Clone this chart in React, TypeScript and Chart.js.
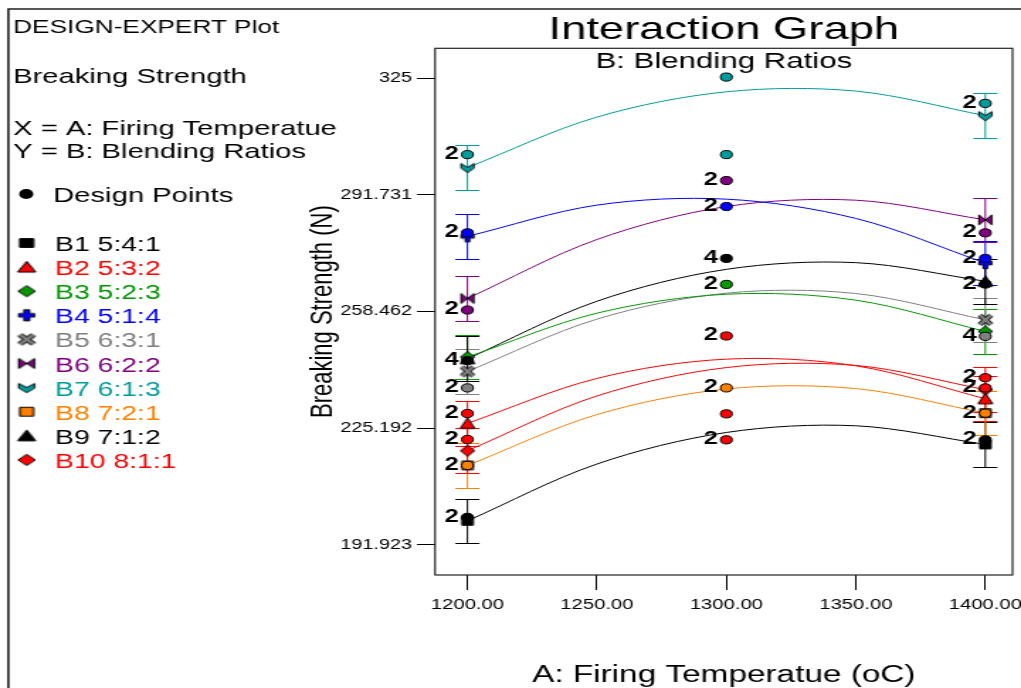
import React, { useEffect, useRef } from 'react';
import { Chart, registerables } from 'chart.js';

Chart.register(...registerables);

const FONT = '"Liberation Sans", Arial, Helvetica, sans-serif';

// ---- Data ----
const seriesNames = ['B1 5:4:1', 'B2 5:3:2', 'B3 5:2:3', 'B4 5:1:4', 'B5 6:3:1', 'B6 6:2:2', 'B7 6:1:3', 'B8 7:2:1', 'B9 7:1:2', 'B10 8:1:1'];
const seriesColors = ['#000000', '#FF0000', '#009900', '#0000FF', '#808080', '#800080', '#009C9C', '#FF8000', '#000000', '#FF0000'];
const seriesMarkers = ['square', 'triangle', 'diamond', 'plus', 'cross', 'bowtie', 'chevron', 'square', 'triangle', 'diamond'];

// Firing temperatures at which the fitted curves were read
const curveTemps = [1200, 1250, 1300, 1350, 1400];
const curveB1 = [198.8, 215.0, 224.0, 225.9, 220.6];
const curveB2 = [226.6, 239.4, 244.9, 243.0, 233.6];
const curveB3 = [245.5, 258.0, 263.4, 261.7, 252.8];
const curveB4 = [279.9, 288.8, 290.5, 285.0, 272.3];
const curveB5 = [241.4, 256.3, 263.7, 263.6, 256.1];
const curveB6 = [262.2, 279.0, 288.4, 290.2, 284.6];
const curveB7 = [299.5, 313.9, 321.1, 321.3, 314.3];
const curveB8 = [214.6, 229.1, 236.4, 236.5, 229.5];
const curveB9 = [245.0, 261.4, 270.5, 272.4, 267.1];
const curveB10 = [218.8, 234.4, 242.5, 243.1, 236.2];
const curves = [curveB1, curveB2, curveB3, curveB4, curveB5, curveB6, curveB7, curveB8, curveB9, curveB10];
const lsdHalfWidth = 6.36;

// Design points
const pointTemps = [
  1200, 1200, 1200, 1200, 1200, 1200, 1200, 1200, 1200,
  1300, 1300, 1300, 1300, 1300, 1300, 1300, 1300, 1300, 1300,
  1400, 1400, 1400, 1400, 1400, 1400, 1400, 1400, 1400,
];
const pointValues = [
  303.2, 280.9, 258.9, 244.5, 236.7, 229.4, 222.0, 214.6, 199.8,
  325.3, 303.2, 295.8, 288.4, 273.6, 266.2, 251.5, 236.7, 229.3, 221.9,
  317.8, 280.9, 273.6, 266.3, 251.4, 239.6, 236.7, 229.5, 221.9,
];
const pointColors = [
  '#009C9C', '#0000FF', '#800080', '#000000', '#808080', '#FF0000', '#FF0000', '#FF8000', '#000000',
  '#009C9C', '#009C9C', '#800080', '#0000FF', '#000000', '#009900', '#FF0000', '#FF8000', '#FF0000', '#FF0000',
  '#009C9C', '#800080', '#0000FF', '#000000', '#808080', '#FF0000', '#FF0000', '#FF8000', '#000000',
];
const pointCounts = [
  2, 2, 2, 4, 2, 2, 2, 2, 2,
  1, 1, 2, 2, 4, 2, 2, 2, 1, 2,
  2, 2, 2, 2, 4, 2, 2, 2, 2,
];

const xTicks = [1200, 1250, 1300, 1350, 1400];
const yTicks = [191.923, 225.192, 258.462, 291.731, 325];
const yTickLabels = ['191.923', '225.192', '258.462', '291.731', '325'];
const xRange = [1187.5, 1410.5];
const yRange = [183.37, 333.5];

// canvas is drawn narrow and stretched horizontally like the reference
const INNER_W = 720;
const OUTER_W = 1021;
const H = 688;

function makeMarker(kind: string, color: string): HTMLCanvasElement {
  const c = document.createElement('canvas');
  c.width = 14;
  c.height = 16;
  const g = c.getContext('2d') as CanvasRenderingContext2D;
  g.translate(7, 8);
  const a = 4.6;
  const b = 5.6;
  g.lineJoin = 'miter';
  g.fillStyle = color;
  g.strokeStyle = '#000';
  g.lineWidth = 1;
  const poly = (pts: number[][]) => {
    g.beginPath();
    pts.forEach(([x, y], i) => (i ? g.lineTo(x, y) : g.moveTo(x, y)));
    g.closePath();
    g.fill();
    g.stroke();
  };
  const strokeLines = (segs: number[][], outer: number, inner: number) => {
    g.lineCap = 'butt';
    g.lineWidth = outer;
    g.strokeStyle = '#000';
    segs.forEach((s) => {
      g.beginPath();
      g.moveTo(s[0], s[1]);
      for (let i = 2; i < s.length; i += 2) g.lineTo(s[i], s[i + 1]);
      g.stroke();
    });
    g.lineWidth = inner;
    g.strokeStyle = color;
    segs.forEach((s) => {
      g.beginPath();
      g.moveTo(s[0], s[1]);
      for (let i = 2; i < s.length; i += 2) g.lineTo(s[i], s[i + 1]);
      g.stroke();
    });
  };
  switch (kind) {
    case 'square':
      poly([[-a + 0.6, -b + 1.2], [a - 0.6, -b + 1.2], [a - 0.6, b - 1.2], [-a + 0.6, b - 1.2]]);
      break;
    case 'triangle':
      poly([[0, -b], [a + 0.6, b - 0.6], [-a - 0.6, b - 0.6]]);
      break;
    case 'diamond':
      poly([[0, -b], [a + 0.4, 0], [0, b], [-a - 0.4, 0]]);
      break;
    case 'plus': {
      const t = 1.6;
      const u = 1.8;
      poly([[-t, -b], [t, -b], [t, -u], [a, -u], [a, u], [t, u], [t, b], [-t, b], [-t, u], [-a, u], [-a, -u], [-t, -u]]);
      break;
    }
    case 'cross':
      strokeLines([[-a + 0.6, -b + 1, a - 0.6, b - 1], [a - 0.6, -b + 1, -a + 0.6, b - 1]], 4.2, 2.4);
      break;
    case 'bowtie':
      poly([[-a, -b + 0.5], [0, 0], [a, -b + 0.5], [a, b - 0.5], [0, 0], [-a, b - 0.5]]);
      break;
    case 'chevron':
      poly([[-a, -b + 1.5], [0, -0.2], [a, -b + 1.5], [a, 0.6], [0, b - 0.5], [-a, 0.6]]);
      break;
  }
  return c;
}

export default function App() {
  const ref = useRef<HTMLCanvasElement | null>(null);

  useEffect(() => {
    const canvas = ref.current;
    if (!canvas) return;
    const markers = seriesMarkers.map((k, i) => makeMarker(k, seriesColors[i]));

    const datasets: any[] = [];
    datasets.push({
      label: 'Design Points',
      data: pointTemps.map((t, i) => ({ x: t, y: pointValues[i] })),
      showLine: false,
      pointStyle: 'circle',
      pointRadius: 4.1,
      pointBackgroundColor: pointColors,
      pointBorderColor: '#000000',
      pointBorderWidth: 1,
    });
    curves.forEach((vals, k) => {
      datasets.push({
        label: seriesNames[k],
        data: curveTemps.map((t, i) => ({ x: t, y: vals[i] })),
        borderColor: seriesColors[k],
        borderWidth: 1,
        tension: 0.33,
        fill: false,
        pointStyle: markers[k],
        pointRadius: curveTemps.map((t) => (t === xTicks[0] || t === xTicks[xTicks.length - 1] ? 5 : 0)),
      });
    });

    const lsdPlugin = {
      id: 'lsdBars',
      beforeDatasetsDraw(chart: any) {
        const { ctx, scales } = chart;
        const xs = scales.x;
        const ys = scales.y;
        ctx.save();
        ctx.lineWidth = 1;
        curves.forEach((vals, k) => {
          ctx.strokeStyle = seriesColors[k];
          [0, curveTemps.length - 1].forEach((i) => {
            const px = xs.getPixelForValue(curveTemps[i]);
            const top = Math.round(ys.getPixelForValue(vals[i] + lsdHalfWidth)) + 0.5;
            const bot = Math.round(ys.getPixelForValue(vals[i] - lsdHalfWidth)) + 0.5;
            ctx.beginPath();
            ctx.moveTo(px, top);
            ctx.lineTo(px, bot);
            ctx.moveTo(px - 8.5, top);
            ctx.lineTo(px + 8.5, top);
            ctx.moveTo(px - 8.5, bot);
            ctx.lineTo(px + 8.5, bot);
            ctx.stroke();
          });
        });
        ctx.restore();
      },
      afterDatasetsDraw(chart: any) {
        const { ctx, chartArea } = chart;
        const meta = chart.getDatasetMeta(0);
        ctx.save();
        ctx.font = `bold 18px ${FONT}`;
        ctx.textAlign = 'right';
        ctx.textBaseline = 'middle';
        ctx.fillStyle = '#000';
        meta.data.forEach((el: any, i: number) => {
          if (pointCounts[i] > 1) ctx.fillText(String(pointCounts[i]), el.x - 6, el.y - 0.5);
        });
        // plot box
        ctx.strokeStyle = '#222';
        ctx.lineWidth = 1.2;
        ctx.strokeRect(chartArea.left, chartArea.top, chartArea.right - chartArea.left, chartArea.bottom - chartArea.top);
        ctx.restore();
      },
      afterDraw(chart: any) {
        const { ctx, chartArea } = chart;
        ctx.save();
        // outer frame
        ctx.strokeStyle = '#222';
        ctx.lineWidth = 1.6;
        ctx.beginPath();
        ctx.moveTo(5.9, H);
        ctx.lineTo(5.9, 9);
        ctx.lineTo(INNER_W, 9);
        ctx.stroke();

        const cx = (chartArea.left + chartArea.right) / 2;
        ctx.fillStyle = '#000';
        ctx.textBaseline = 'alphabetic';
        ctx.textAlign = 'center';
        ctx.font = `32px ${FONT}`;
        ctx.fillText('Interaction Graph', cx, 39);
        ctx.font = `22px ${FONT}`;
        ctx.fillText('B: Blending Ratios', cx, 68);

        ctx.textAlign = 'left';
        ctx.font = `18.5px ${FONT}`;
        ctx.fillText('DESIGN-EXPERT Plot', 9.2, 33);
        ctx.font = `20.6px ${FONT}`;
        ctx.fillText('Breaking Strength', 9.2, 83);
        ctx.fillText('X = A: Firing Temperatue', 9.2, 135);
        ctx.fillText('Y = B: Blending Ratios', 9.2, 158);

        ctx.beginPath();
        ctx.arc(18.5, 194, 5, 0, Math.PI * 2);
        ctx.fill();
        ctx.fillText('Design Points', 37.5, 202);

        ctx.font = `20px ${FONT}`;
        seriesNames.forEach((name, i) => {
          const base = 251 + 24.1 * i;
          const m = markers[i];
          ctx.drawImage(m, 18.8 - 8.5, base - 8 - 8, 17, 16);
          ctx.fillStyle = seriesColors[i];
          ctx.fillText(name, 38.8, base);
        });
        ctx.restore();
      },
    };

    const chart = new Chart(canvas, {
      type: 'line',
      data: { datasets },
      options: {
        responsive: false,
        animation: false,
        devicePixelRatio: 1,
        events: [],
        layout: { padding: { left: 214.6, right: 4.2, top: 48.3, bottom: 0 } },
        plugins: {
          legend: { display: false },
          tooltip: { enabled: false },
          title: { display: false },
        },
        scales: {
          x: {
            type: 'linear',
            min: xRange[0],
            max: xRange[1],
            bounds: 'data',
            afterBuildTicks: (s: any) => {
              s.ticks = xTicks.map((v) => ({ value: v }));
            },
            afterFit: (s: any) => {
              s.height = H - 575;
              s.paddingLeft = 0;
              s.paddingRight = 0;
            },
            ticks: {
              autoSkip: false,
              minRotation: 0,
              maxRotation: 0,
              padding: 6,
              color: '#000',
              font: { size: 14.3, family: FONT },
              callback: (v: any) => Number(v).toFixed(2),
            },
            grid: { drawOnChartArea: false, drawTicks: true, tickLength: 15, color: '#000', lineWidth: 1 },
            border: { display: false },
            title: {
              display: true,
              text: 'A: Firing Temperatue (oC)',
              color: '#000',
              font: { size: 23.5, family: FONT, lineHeight: 1 },
              padding: { top: 0, bottom: 0.5 },
            },
          },
          y: {
            type: 'linear',
            min: yRange[0],
            max: yRange[1],
            bounds: 'data',
            afterBuildTicks: (s: any) => {
              s.ticks = yTicks.map((v) => ({ value: v }));
            },
            afterFit: (s: any) => {
              s.width = 306.8 - 214.6;
              s.paddingTop = 0;
              s.paddingBottom = 0;
            },
            ticks: {
              autoSkip: false,
              padding: 3.5,
              color: '#000',
              font: { size: 14, family: FONT },
              callback: (_v: any, i: number) => yTickLabels[i],
            },
            grid: { drawOnChartArea: false, drawTicks: true, tickLength: 12.8, color: '#000', lineWidth: 1 },
            border: { display: false },
            title: {
              display: true,
              text: 'Breaking Strength (N)',
              color: '#000',
              font: { size: 22, family: FONT, lineHeight: 1.2 },
              padding: { top: 0, bottom: 0 },
            },
          },
        },
      },
      plugins: [lsdPlugin],
    } as any);

    return () => chart.destroy();
  }, []);

  return (
    <div style={{ position: 'absolute', left: 0, top: 0, width: OUTER_W, height: H, overflow: 'hidden', background: '#fff' }}>
      <canvas
        ref={ref}
        width={INNER_W}
        height={H}
        style={{ width: `${OUTER_W}px`, height: `${H}px`, display: 'block' }}
      />
    </div>
  );
}
